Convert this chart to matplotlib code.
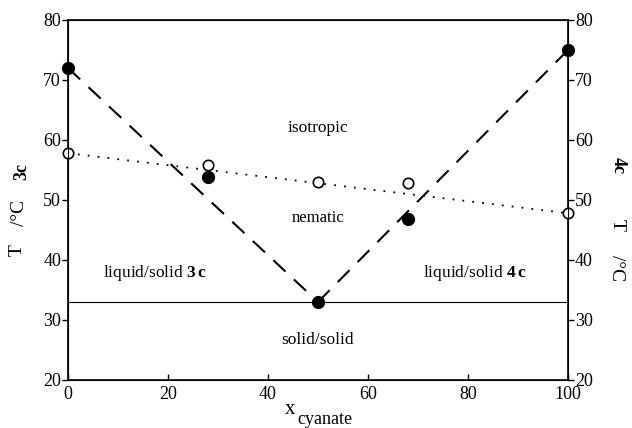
import matplotlib
matplotlib.use('Agg')
import matplotlib.pyplot as plt

plt.rcParams['font.family'] = ['Liberation Serif', 'DejaVu Serif']
plt.rcParams['mathtext.fontset'] = 'custom'
plt.rcParams['mathtext.rm'] = 'Liberation Serif'
plt.rcParams['mathtext.it'] = 'Liberation Serif:italic'
plt.rcParams['mathtext.bf'] = 'Liberation Serif:bold'

# data
x_filled = [0, 28, 50, 68, 100]
t_filled = [72, 53.8, 33, 46.8, 75]
x_open = [0, 28, 50, 68, 100]
t_open = [57.8, 55.8, 53, 52.8, 47.8]
x_left = [0, 50]
t_left = [72, 33]
x_right = [50, 100]
t_right = [33, 75]
x_ni = [0, 100]
t_ni = [57.8, 47.8]
t_eutectic = 33
xticks = [0, 20, 40, 60, 80, 100]
yticks = [20, 30, 40, 50, 60, 70, 80]

fig = plt.figure(figsize=(6.32, 4.28), dpi=100)
ax = fig.add_axes([68 / 632, 48 / 428, 500 / 632, 360 / 428])

ax.plot(x_left, t_left, color='black', ls=(0, (8, 5.5)), lw=1.5)
ax.plot(x_right, t_right, color='black', ls=(0, (8, 5.5)), lw=1.5)
ax.plot(x_ni, t_ni, color='black', ls=(0, (1, 4.5)), lw=1.3)
ax.plot([0, 100], [t_eutectic, t_eutectic], color='black', lw=0.8)
ax.plot(x_open, t_open, 'o', mfc='white', mec='black', mew=1.2, ms=7.5, clip_on=False, zorder=5)
ax.plot(x_filled, t_filled, 'o', color='black', ms=8.5, clip_on=False, zorder=6)

ax.set_xlim(0, 100)
ax.set_ylim(20, 80)
ax.set_xticks(xticks)
ax.set_yticks(yticks)
ax.tick_params(axis='y', direction='out', length=4, labelsize=13, width=1, pad=1)
ax.tick_params(axis='x', direction='in', length=4, labelsize=13, width=1, pad=4)
for s in ax.spines.values():
    s.set_linewidth(1.2)

ax2 = ax.twinx()
ax2.set_ylim(20, 80)
ax2.set_yticks(yticks)
ax2.tick_params(direction='out', length=4, labelsize=13, width=1, pad=1)

ax.text(50, 62, 'isotropic', ha='center', va='center', fontsize=12.5)
ax.text(50, 47, 'nematic', ha='center', va='center', fontsize=12)
ax.text(17.4, 37.8, 'liquid/solid $\\mathbf{3\\,c}$', ha='center', va='center', fontsize=12.5)
ax.text(81.4, 37.8, 'liquid/solid $\\mathbf{4\\,c}$', ha='center', va='center', fontsize=12.5)
ax.text(50, 26.7, 'solid/solid', ha='center', va='center', fontsize=12.5)

# left axis label pieces
fig.text(17 / 632, 1 - 250 / 428, 'T', rotation=90, ha='center', va='center', fontsize=14)
fig.text(20 / 632, 1 - 213 / 428, '/°C', rotation=90, ha='center', va='center', fontsize=14)
fig.text(22 / 632, 1 - 171 / 428, '3c', rotation=90, ha='center', va='center', fontsize=13, fontweight='bold')

# right axis label pieces
fig.text(618 / 632, 1 - 165 / 428, '4c', rotation=-90, ha='center', va='center', fontsize=13, fontweight='bold')
fig.text(617 / 632, 1 - 225 / 428, 'T', rotation=-90, ha='center', va='center', fontsize=14)
fig.text(617 / 632, 1 - 268 / 428, '/°C', rotation=-90, ha='center', va='center', fontsize=14)

fig.text(290 / 632, 1 - 410 / 428, 'x', ha='center', va='center', fontsize=15)
fig.text(325 / 632, 1 - 420 / 428, 'cyanate', ha='center', va='center', fontsize=13)

fig.savefig('out.png', dpi=100)
